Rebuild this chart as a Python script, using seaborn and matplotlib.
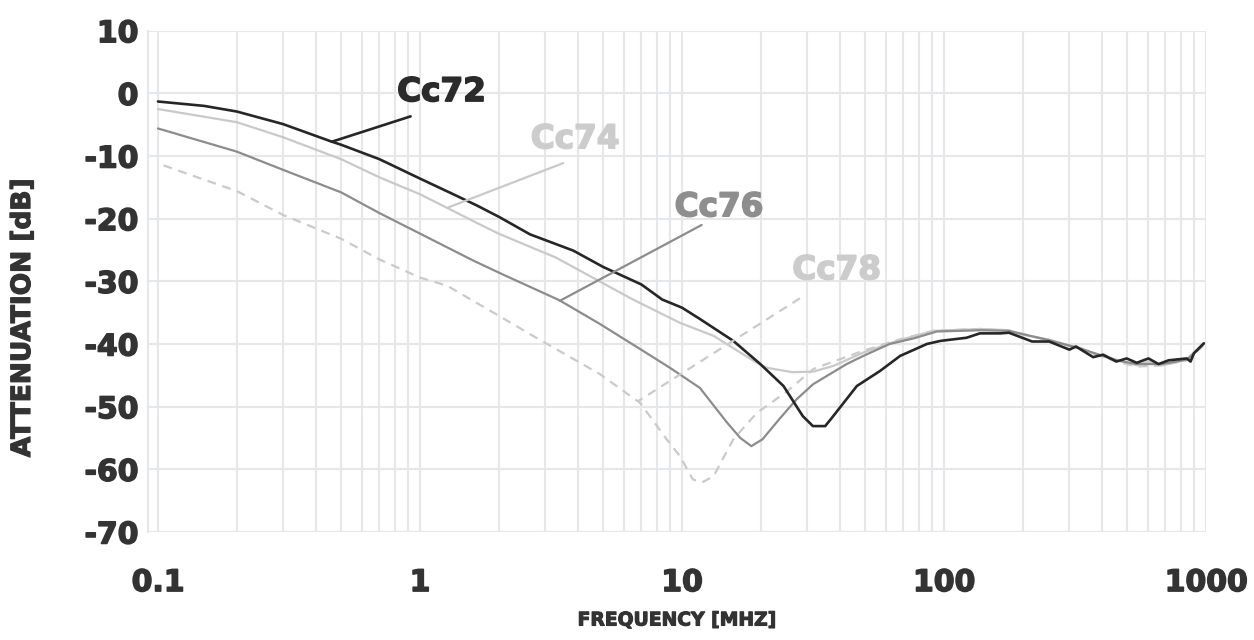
import matplotlib
matplotlib.use("Agg")
import matplotlib.pyplot as plt
import matplotlib.ticker as mticker
import matplotlib.patheffects as pe
import numpy as np
import pandas as pd
import seaborn as sns

# Attenuation curves (frequency in MHz, attenuation in dB)
freq_cc72 = [0.1, 0.15, 0.2, 0.3, 0.46, 0.5, 0.7, 1.0, 1.34, 1.65, 2.0, 2.63, 3.85, 5.0, 7.0, 8.4, 10,
             11.7, 15.7, 19.9, 24.4, 28.9, 31.6, 35.2, 37.3, 46.5, 57, 68, 86, 97, 122, 137, 164,
             177, 217, 252, 301, 319, 371, 405, 455, 498, 544, 603, 659, 720, 845, 873, 899, 981]
att_cc72 = [-1.3, -2.0, -2.9, -4.9, -7.7, -8.2, -10.5, -13.6, -16.1, -17.9, -19.7, -22.5, -25.1, -27.7,
            -30.5, -32.9, -34.2, -36.0, -39.5, -43.2, -46.7, -51.5, -53.1, -53.1, -51.8, -46.7, -44.3,
            -41.9, -40.0, -39.5, -39.0, -38.3, -38.3, -38.2, -39.6, -39.6, -40.9, -40.4, -42.1, -41.7,
            -42.8, -42.3, -43.0, -42.3, -43.2, -42.6, -42.3, -42.8, -41.5, -39.9]

freq_cc74 = [0.1, 0.2, 0.3, 0.5, 0.7, 1.0, 1.69, 2.0, 3.3, 4.7, 6.5, 9.8, 13.2, 19.3, 21.1, 26.4,
             31.7, 37.8, 49, 66, 91, 138, 177, 198, 252, 293, 330, 380, 455, 544, 600, 680, 845, 981]
att_cc74 = [-2.5, -4.6, -7.0, -10.5, -13.4, -16.1, -20.9, -22.4, -26.2, -29.7, -32.9, -36.6, -38.7,
            -43.0, -43.8, -44.5, -44.4, -43.5, -41.4, -39.5, -37.9, -37.6, -37.8, -38.5, -39.3, -40.1,
            -40.6, -41.7, -42.5, -43.4, -42.8, -43.4, -42.5, -39.9]

freq_cc76 = [0.1, 0.2, 0.3, 0.5, 0.7, 0.97, 1.6, 2.07, 3.4, 4.86, 6.92, 9.0, 11.7, 14.9, 16.7, 18.4,
             20.3, 23.5, 27.4, 31.7, 36.7, 42.5, 49.2, 62, 76.6, 94, 138, 177, 252, 330, 455, 544,
             680, 845, 981]
att_cc76 = [-5.6, -9.3, -12.2, -15.8, -19.1, -22.1, -26.7, -28.9, -33.0, -36.8, -40.8, -43.8, -47.0,
            -52.6, -55.0, -56.3, -55.2, -52.0, -48.8, -46.4, -44.8, -43.2, -41.9, -40.0, -39.1, -38.0,
            -37.8, -37.9, -39.4, -40.7, -42.6, -43.2, -43.2, -42.5, -39.9]

freq_cc78 = [0.105, 0.2, 0.3, 0.5, 0.7, 1.0, 1.27, 2.0, 2.7, 4.86, 6.92, 8.74, 9.82, 11.0, 11.9, 13.2,
             15.7, 19.3, 25.1, 31.7, 36.7, 49, 66, 91, 138, 177, 252, 330, 455, 544, 680, 845, 981]
att_cc78 = [-11.5, -15.6, -19.4, -23.2, -26.5, -29.4, -30.7, -35.5, -38.7, -44.8, -49.4, -55.2, -57.9,
            -61.6, -62.1, -61.1, -55.2, -51.0, -47.6, -44.0, -43.0, -41.1, -39.4, -37.9, -37.6, -37.9,
            -39.4, -40.8, -42.8, -43.6, -43.4, -42.6, -40.2]

series_names = ["Cc72", "Cc74", "Cc76", "Cc78"]
x_ticks = [0.1, 1, 10, 100, 1000]
x_tick_labels = ["0.1", "1", "10", "100", "1000"]
y_ticks = [10, 0, -10, -20, -30, -40, -50, -60, -70]

frames = []
for name, f, a in zip(series_names,
                      [freq_cc72, freq_cc74, freq_cc76, freq_cc78],
                      [att_cc72, att_cc74, att_cc76, att_cc78]):
    frames.append(pd.DataFrame({"freq": f, "att": a, "series": name}))
df = pd.concat(frames, ignore_index=True)

sns.set_theme(style="white")
plt.rcParams["font.family"] = ["DejaVu Sans"]

line_color = {"Cc72": "#262626", "Cc74": "#c9c9c9", "Cc76": "#8c8c8c", "Cc78": "#cacaca"}
text_color = {"Cc72": "#2b2b2b", "Cc74": "#cccccc", "Cc76": "#8e8e8e", "Cc78": "#cccccc"}
line_width = {"Cc72": 1.9, "Cc74": 1.6, "Cc76": 1.6, "Cc78": 1.6}
grid_color = "#e6e7e9"
ink = "#333333"


def heavy(color, width=1.1):
    # thicken bold glyphs slightly with a same-coloured outline
    return [pe.withStroke(linewidth=width, foreground=color)]


fig = plt.figure(figsize=(12.54, 6.40), dpi=100)
ax = fig.add_axes([148 / 1254, 1 - 532 / 640, (1206 - 148) / 1254, (532 - 30.7) / 640])

# Draw the dashed curve first, then solid ones on top
for name in ["Cc78", "Cc74", "Cc76", "Cc72"]:
    sub = df[df["series"] == name]
    sns.lineplot(data=sub, x="freq", y="att", ax=ax, estimator=None, sort=False,
                 color=line_color[name], linewidth=line_width[name],
                 linestyle=(0, (4, 3)) if name == "Cc78" else "-", legend=False)

ax.set_xscale("log")
ax.set_xlim(0.0916, 1000)
ax.set_ylim(-70, 10)

ax.xaxis.set_major_locator(mticker.FixedLocator(x_ticks))
ax.xaxis.set_minor_locator(mticker.LogLocator(base=10, subs=np.arange(2, 10)))
ax.xaxis.set_minor_formatter(mticker.NullFormatter())
ax.set_xticks(x_ticks)
ax.set_xticklabels(x_tick_labels)
ax.set_yticks(y_ticks)
ax.set_yticklabels([str(v) for v in y_ticks])

ax.grid(True, which="major", axis="both", color=grid_color, linewidth=1.5)
ax.grid(True, which="minor", axis="x", color=grid_color, linewidth=1.5)
ax.set_axisbelow(True)

for side in ["top", "right", "bottom"]:
    ax.spines[side].set_visible(False)
ax.spines["left"].set_color(grid_color)
ax.spines["left"].set_linewidth(1.5)

ax.tick_params(axis="both", which="both", length=0)
ax.tick_params(axis="y", pad=7, labelsize=21.5, labelcolor=ink)
ax.tick_params(axis="x", pad=26, labelsize=21.5, labelcolor=ink)
for lab in ax.get_xticklabels() + ax.get_yticklabels():
    lab.set_fontweight("bold")
    lab.set_path_effects(heavy(ink))

ax.set_xlabel("FREQUENCY [MHZ]", fontsize=13.5, fontweight="bold", color=ink,
              path_effects=heavy(ink, 0.8))
ax.xaxis.set_label_coords(0.5, -(620 - 532) / 501.3)
ax.xaxis.label.set_va("center")
ax.set_ylabel("ATTENUATION [dB]", fontsize=19, fontweight="bold", color=ink,
              path_effects=heavy(ink, 0.9))
ax.yaxis.set_label_coords(-(148 - 23) / 1058, (532 - 318) / 501.3)
ax.yaxis.label.set_va("center")

# Series callouts with leader lines
callouts = {
    "Cc72": {"text": (1.208, -1.23), "line": [(0.921, -3.67), (0.460, -7.73)]},
    "Cc74": {"text": (3.905, -8.74), "line": [(3.52, -11.13), (1.282, -18.2)]},
    "Cc76": {"text": (13.84, -19.6), "line": [(11.89, -21.0), (3.42, -33.1)]},
    "Cc78": {"text": (38.9, -29.65), "line": [(28.2, -32.7), (6.81, -49.1)]},
}
for name, spec in callouts.items():
    tx, ty = spec["text"]
    ax.text(tx, ty, name, ha="center", va="baseline", fontsize=23.5, fontweight="bold",
            color=text_color[name], path_effects=heavy(text_color[name], 1.2))
    (x0, y0), (x1, y1) = spec["line"]
    ax.plot([x0, x1], [y0, y1], color=line_color[name], linewidth=line_width[name],
            linestyle=(0, (4, 3)) if name == "Cc78" else "-")

fig.savefig("out.png", dpi=100, facecolor="white")
